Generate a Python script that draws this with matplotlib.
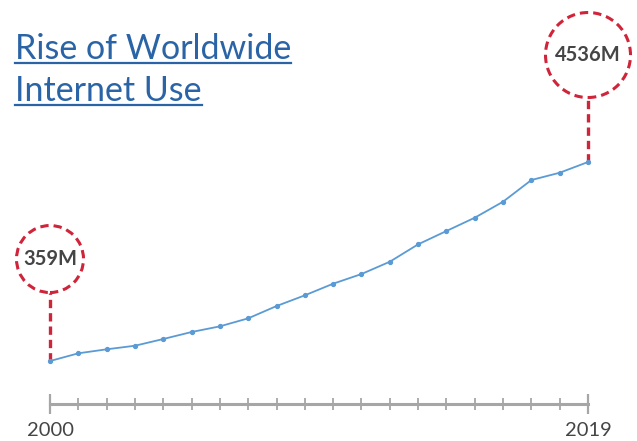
import matplotlib
matplotlib.use('Agg')
import matplotlib.pyplot as plt
from matplotlib.patches import Circle
from matplotlib.lines import Line2D
from matplotlib.transforms import ScaledTranslation

years = list(range(2000, 2020))
users = [359, 521, 605, 680, 821, 968, 1087, 1255, 1513, 1738,
         1982, 2185, 2443, 2808, 3088, 3367, 3703, 4158, 4311, 4536]
title_lines = ['Rise of Worldwide', 'Internet Use']

plt.rcParams['font.family'] = ['Lato', 'DejaVu Sans']
plt.rcParams['lines.scale_dashes'] = False

W, H = 637, 441
fig = plt.figure(figsize=(W / 100, H / 100), dpi=100)
ax = fig.add_axes([50 / W, 37 / H, 538 / W, 384 / H])

line_blue = '#5b9bd5'
red = '#d0243a'
grey_txt = '#454545'

ax.plot(years, users, color=line_blue, lw=1.3, marker='o', ms=2.8,
        clip_on=False, zorder=3)

ax.set_xlim(years[0], years[-1])
ax.set_ylim(-543, 7517)
for s in ['top', 'left', 'right']:
    ax.spines[s].set_visible(False)
ax.spines['bottom'].set_color('#a6a6a6')
ax.spines['bottom'].set_linewidth(2.2)
ax.set_yticks([])
ax.set_xticks([years[0], years[-1]])
ax.set_xticks(years[1:-1], minor=True)
ax.tick_params(axis='x', which='major', direction='inout', length=14,
               width=1.6, color='#a6a6a6', labelsize=14.5,
               labelcolor=grey_txt, pad=6)
ax.tick_params(axis='x', which='minor', direction='inout', length=8,
               width=1.3, color='#a6a6a6')


def callout(idx, label, dy, r):
    trans = fig.dpi_scale_trans + ScaledTranslation(years[idx], users[idx], ax.transData)
    c = Circle((0, dy), r, transform=trans, fill=False, edgecolor=red,
               lw=2.2, linestyle=(0, (6, 3.6)), clip_on=False, zorder=4)
    ax.add_artist(c)
    ax.plot([0, 0], [0, dy - r], transform=trans, color=red, lw=2.4,
            dashes=(6, 3.6), clip_on=False, zorder=2)
    ax.text(0, dy, label, transform=trans, ha='center', va='center',
            fontsize=14.5, fontweight='bold', color=grey_txt, zorder=5)


callout(0, f'{users[0]}M', 1.02, 0.335)
callout(-1, f'{users[-1]}M', 1.07, 0.425)

# title with underline
title_color = '#2a64a6'
baselines = [59, 101]
texts = []
for t, b in zip(title_lines, baselines):
    texts.append(fig.text(15 / W, 1 - b / H, t, fontsize=24.5, color=title_color,
                          va='baseline', ha='left'))
fig.canvas.draw()
r = fig.canvas.get_renderer()
for t, b in zip(texts, baselines):
    bb = t.get_window_extent(r)
    y = 1 - (b + 4) / H
    fig.add_artist(Line2D([bb.x0 / W, bb.x1 / W], [y, y], color=title_color,
                          lw=1.6, transform=fig.transFigure))

fig.savefig('out.png', dpi=100)
